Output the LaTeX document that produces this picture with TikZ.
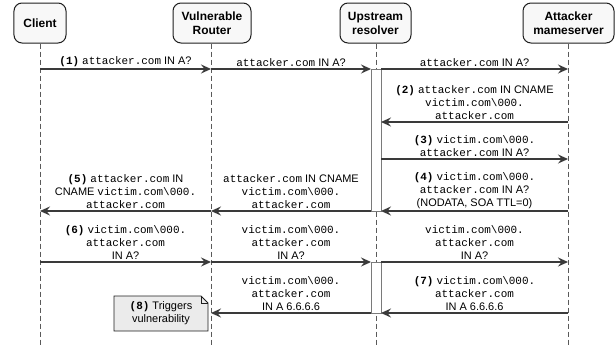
\documentclass[tikz,border=0pt]{standalone}
\usepackage{fontspec}
\setmainfont{Liberation Sans}
\setmonofont{Liberation Mono}
\usetikzlibrary{arrows.meta}
\definecolor{lineC}{HTML}{3A3A3A}
\definecolor{boxB}{HTML}{1E1E1E}
\definecolor{boxF}{HTML}{F8F8F8}
\definecolor{lifeC}{HTML}{5A5A5A}
\definecolor{barC}{HTML}{7A7A7A}
\definecolor{noteF}{HTML}{EBEBEB}
\newcommand\mo[1]{\texttt{#1}}
\newcommand\stp[1]{\textbf{\texttt{(#1)}}}
\newcommand\bsl{\textbackslash}
\tikzset{
  part/.style={draw=boxB, fill=boxF, rounded corners=8bp, line width=1bp,
    minimum height=40bp, align=center, font=\fontsize{12}{14}\selectfont\bfseries, inner sep=2bp},
  life/.style={draw=lifeC, line width=0.8bp, dash pattern=on 5bp off 3bp},
  actbar/.style={draw=barC, fill=white, line width=1bp},
  msg/.style={draw=lineC, line width=1.4bp, -{Stealth[length=10bp, width=9bp, inset=3.5bp]}},
  lbl/.style={above, inner sep=1.5bp, align=center, text=black, font=\fontsize{11}{13}\selectfont},
  notebox/.style={draw=boxB, fill=noteF, line width=0.8bp},
}
\begin{document}
\begin{tikzpicture}[x=1bp, y=-1bp]
\useasboundingbox (0,0) rectangle (616,349);
% participants
\node[part, minimum width=52bp] (client) at (40,23) {Client};
\node[part, minimum width=78bp] (router) at (212,23) {Vulnerable\\Router};
\node[part, minimum width=71bp] (resolver) at (375.5,23) {Upstream\\resolver};
\node[part, minimum width=91bp] (attacker) at (568.5,23) {Attacker\\mameserver};
% lifeline ends
\coordinate (cE) at (40,345);
\coordinate (rE) at (211,345);
\coordinate (uE) at (376,345);
\coordinate (aE) at (568,345);
\draw[life] (client) -- (cE);
\draw[life] (router.south -| rE) -- (rE);
\draw[life] (resolver.south -| uE) -- (uE);
\draw[life] (attacker.south -| aE) -- (aE);
% activation bars
\node[actbar, minimum width=10bp, minimum height=142bp, inner sep=0pt, anchor=north] (bar1) at (376,69) {};
\node[actbar, minimum width=10bp, minimum height=51bp, inner sep=0pt, anchor=north] (bar2) at (376,262) {};
% endpoints
\foreach \n/\y in {1/69,2/122,3/159,4/211,6/262,7/313}{
  \coordinate (C\n) at (40,\y);
  \coordinate (R\n) at (211,\y);
  \coordinate (UL\n) at (371,\y);
  \coordinate (UR\n) at (381,\y);
  \coordinate (A\n) at (568,\y);
}
% (1)
\draw[msg] (C1) -- node[lbl] {\stp{1} \mo{attacker.com} IN A?} (R1);
\draw[msg] (R1) -- node[lbl] {\mo{attacker.com} IN A?} (UL1);
\draw[msg] (UR1) -- node[lbl] {\mo{attacker.com} IN A?} (A1);
% (2)
\draw[msg] (A2) -- node[lbl] {\stp{2} \mo{attacker.com} IN CNAME\\\mo{victim.com\bsl 000.}\\\mo{attacker.com}} (UR2);
% (3)
\draw[msg] (UR3) -- node[lbl] {\stp{3} \mo{victim.com\bsl 000.}\\\mo{attacker.com} IN A?} (A3);
% (4)
\draw[msg] (A4) -- node[lbl] {\stp{4} \mo{victim.com\bsl 000.}\\\mo{attacker.com} IN A?\\(NODATA, SOA TTL=0)} (UR4);
\draw[msg] (UL4) -- node[lbl] {\mo{attacker.com} IN CNAME\\\mo{victim.com\bsl 000.}\\\mo{attacker.com}} (R4);
% (5)
\draw[msg] (R4) -- node[lbl] {\stp{5} \mo{attacker.com} IN\\CNAME \mo{victim.com\bsl 000.}\\\mo{attacker.com}} (C4);
% (6)
\draw[msg] (C6) -- node[lbl] {\stp{6} \mo{victim.com\bsl 000.}\\\mo{attacker.com}\\IN A?} (R6);
\draw[msg] (R6) -- node[lbl] {\mo{victim.com\bsl 000.}\\\mo{attacker.com}\\IN A?} (UL6);
\draw[msg] (UR6) -- node[lbl] {\mo{victim.com\bsl 000.}\\\mo{attacker.com}\\IN A?} (A6);
% (7)
\draw[msg] (A7) -- node[lbl] {\stp{7} \mo{victim.com\bsl 000.}\\\mo{attacker.com}\\IN A 6.6.6.6} (UR7);
\draw[msg] (UL7) -- node[lbl] {\mo{victim.com\bsl 000.}\\\mo{attacker.com}\\IN A 6.6.6.6} (R7);
% (8) note
\draw[notebox] (114,296) -- (201,296) -- (208,303) -- (208,331) -- (114,331) -- cycle;
\draw[boxB, line width=0.8bp] (201,296) -- (201,303) -- (208,303);
\node[align=center, font=\fontsize{11}{13}\selectfont, inner sep=0pt] (note) at (161,313.5) {\stp{8} Triggers\\vulnerability};
\end{tikzpicture}
\end{document}
